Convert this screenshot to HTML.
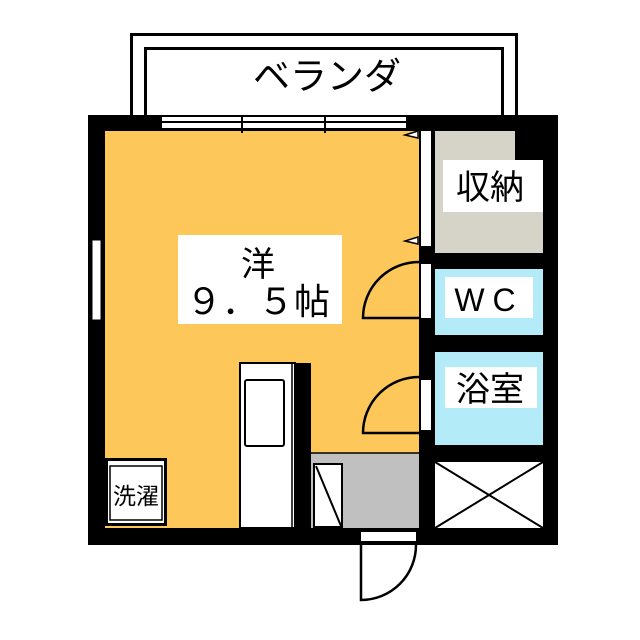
<!DOCTYPE html>
<html><head><meta charset="utf-8"><style>body{margin:0;background:#fff}svg{display:block}text{font-family:"Liberation Sans","Noto Sans CJK JP",sans-serif;fill:#000}</style></head><body>
<svg width="640" height="640" viewBox="0 0 640 640" xmlns="http://www.w3.org/2000/svg">
<rect x="131.5" y="34.5" width="385" height="90" fill="none" stroke="#000" stroke-width="3"/>
<rect x="145.5" y="48.5" width="357" height="80" fill="none" stroke="#000" stroke-width="3"/>
<text x="327" y="89" font-size="37" text-anchor="middle">ベランダ</text>
<rect x="88" y="115" width="470" height="430" fill="#000"/>
<rect x="105" y="131" width="314" height="397" fill="#fdc75a"/>
<rect x="160" y="115" width="246" height="16" fill="#000"/>
<rect x="162" y="117" width="244" height="4" fill="#fff"/>
<rect x="162" y="123" width="244" height="5" fill="#fff"/>
<line x1="242" y1="115" x2="242" y2="133" stroke="#000" stroke-width="2"/>
<line x1="325" y1="115" x2="325" y2="133" stroke="#000" stroke-width="2"/>
<rect x="92" y="240" width="9" height="80" fill="#fff" stroke="#000" stroke-width="1"/>
<rect x="435" y="131" width="108" height="122" fill="#d6d3c8"/>
<rect x="515" y="131" width="28" height="29" fill="#000"/>
<rect x="421" y="131" width="10" height="115" fill="#fff"/>
<polygon points="418,131 405,135 418,138" fill="#fff" stroke="#000" stroke-width="1.5"/>
<polygon points="418,237 405,241 418,244" fill="#fff" stroke="#000" stroke-width="1.5"/>
<rect x="443" y="160" width="100" height="52" fill="#fff"/>
<text x="490" y="199" font-size="34" text-anchor="middle">収納</text>
<rect x="435" y="269" width="108" height="66" fill="#b3ebf8"/>
<rect x="445" y="277" width="88" height="41" fill="#fff"/>
<text x="489" y="311" font-size="32" text-anchor="middle" letter-spacing="8">WC</text>
<rect x="421" y="264" width="10" height="54" fill="#fff"/>
<path d="M419,262 A56,56 0 0 0 363,318 L419,318" fill="none" stroke="#000" stroke-width="2.5"/>
<rect x="435" y="352" width="108" height="93" fill="#b3ebf8"/>
<rect x="445" y="367" width="92" height="41" fill="#fff"/>
<text x="490" y="401" font-size="34" text-anchor="middle">浴室</text>
<rect x="421" y="380" width="10" height="50" fill="#fff"/>
<path d="M419,377 A56,56 0 0 0 363,433 L419,433" fill="none" stroke="#000" stroke-width="2.5"/>
<rect x="435" y="462" width="108" height="66" fill="#fff"/>
<line x1="435" y1="462" x2="543" y2="528" stroke="#000" stroke-width="2"/>
<line x1="543" y1="462" x2="435" y2="528" stroke="#000" stroke-width="2"/>
<rect x="178" y="235" width="164" height="89" fill="#fff"/>
<text x="258" y="276" font-size="34" text-anchor="middle">洋</text>
<text x="258" y="314" font-size="36" text-anchor="middle">９．５帖</text>
<rect x="240" y="363" width="55" height="165" fill="#fff" stroke="#000" stroke-width="2"/>
<line x1="292" y1="363" x2="292" y2="528" stroke="#000" stroke-width="1.5"/>
<rect x="295" y="363" width="16" height="165" fill="#000"/>
<rect x="245" y="380" width="39" height="66" rx="2" fill="#fff" stroke="#000" stroke-width="2"/>
<rect x="311" y="453" width="108" height="75" fill="#c0c0c0"/>
<line x1="311" y1="453" x2="419" y2="453" stroke="#000" stroke-width="1.5"/>
<rect x="314" y="464" width="28" height="63" fill="#fff" stroke="#000" stroke-width="2"/>
<line x1="316" y1="466" x2="341" y2="526" stroke="#000" stroke-width="2"/>
<rect x="105" y="458" width="62" height="68" fill="#000"/>
<rect x="108" y="461" width="56" height="62" fill="#fff"/>
<rect x="110" y="466" width="52" height="54" fill="#fff" stroke="#000" stroke-width="1.5"/>
<text x="136" y="504" font-size="23" text-anchor="middle">洗濯</text>
<rect x="361" y="532" width="55" height="9" fill="#fff"/>
<path d="M361,545 L361,600 A55,55 0 0 0 416,545" fill="#fff" stroke="#000" stroke-width="2.5"/>
</svg>
</body></html>
